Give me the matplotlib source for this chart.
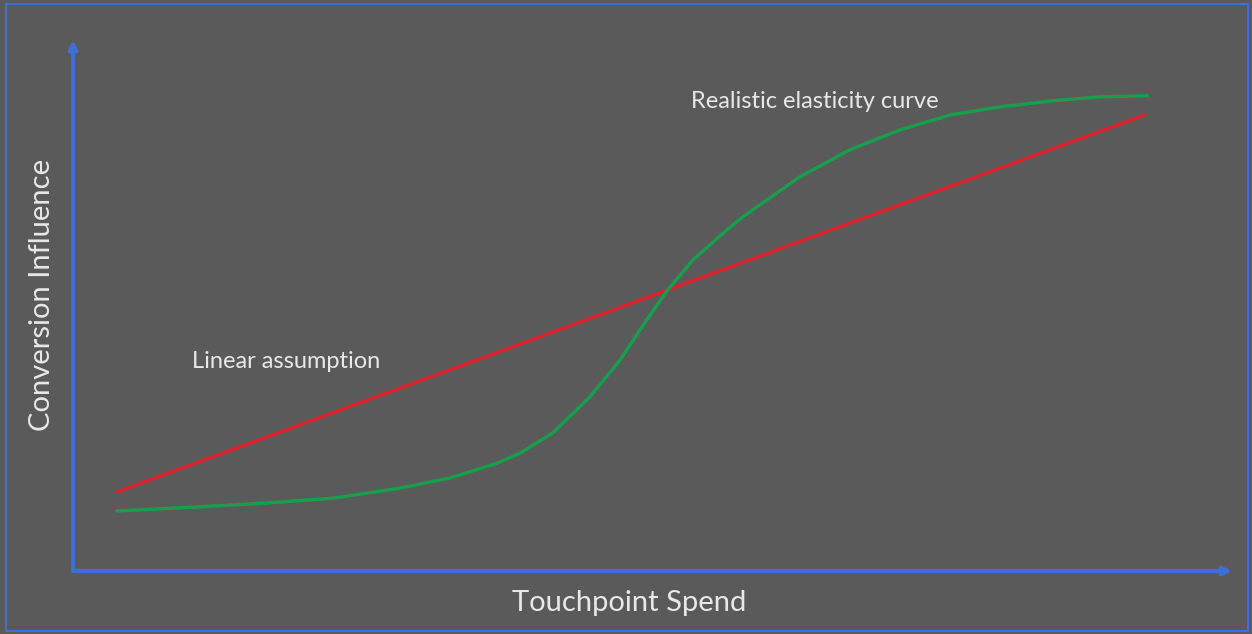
import matplotlib.pyplot as plt
from matplotlib.patches import Rectangle

# data (arbitrary units, 0-100 on both axes)
linear_x = [3.8, 92.5]
linear_y = [14.9, 85.9]

curve_x = [3.8, 11.0, 16.7, 22.4, 28.2, 32.5, 36.6, 38.6, 41.4, 44.6, 47.2, 49.5,
           51.3, 53.5, 56.4, 57.8, 62.7, 67.0, 71.4, 75.7, 80.0, 84.3, 88.6, 92.7]
curve_y = [11.3, 12.1, 12.8, 13.7, 15.6, 17.5, 20.3, 22.2, 26.0, 32.8, 39.7, 47.3,
           52.9, 58.6, 64.2, 66.7, 74.2, 79.3, 83.1, 85.9, 87.4, 88.5, 89.3, 89.5]

x_label = "Touchpoint Spend"
y_label = "Conversion Influence"
linear_label = "Linear assumption"
curve_label = "Realistic elasticity curve"

bg = "#5a5a5a"
blue = "#3f6fd6"
red = "#e0202a"
green = "#17a04c"
txt = "#e8e8e8"

plt.rcParams['font.family'] = ['Lato', 'DejaVu Sans']

fig = plt.figure(figsize=(12.52, 6.34), dpi=100)
fig.patch.set_facecolor(bg)

# thin frame around the picture
fig.patches.append(Rectangle((6 / 1252, 3 / 634), 1242 / 1252, 627 / 634,
                             transform=fig.transFigure, fill=False,
                             edgecolor=blue, linewidth=1.5))

ax = fig.add_axes([0.0583, 0.0994, 0.9257, 0.8375])
ax.set_facecolor(bg)
ax.set_xlim(0, 100)
ax.set_ylim(0, 100)
for s in ax.spines.values():
    s.set_visible(False)
ax.set_xticks([])
ax.set_yticks([])

# axis arrows
arrow = dict(arrowstyle='-|>', color=blue, lw=3, mutation_scale=12, shrinkA=0, shrinkB=0)
ax.annotate("", xy=(0, 1), xytext=(0, 0), xycoords='axes fraction',
            textcoords='axes fraction', arrowprops=arrow, annotation_clip=False)
ax.annotate("", xy=(1, 0), xytext=(0, 0), xycoords='axes fraction',
            textcoords='axes fraction', arrowprops=arrow, annotation_clip=False)

ax.plot(linear_x, linear_y, color=red, lw=2.4, solid_capstyle='round')
ax.plot(curve_x, curve_y, color=green, lw=2.4, solid_capstyle='round',
        solid_joinstyle='round')

ax.text(18.4, 39.4, linear_label, color=txt, fontsize=17, ha='center', va='center')
ax.text(64.0, 88.5, curve_label, color=txt, fontsize=17, ha='center', va='center')

fig.text(0.5024, 0.049, x_label, color=txt, fontsize=21, ha='center', va='center')
fig.text(0.0335, 0.535, y_label, color=txt, fontsize=21, ha='center', va='center',
         rotation=90)

fig.savefig("out.png", dpi=100, facecolor=bg)
